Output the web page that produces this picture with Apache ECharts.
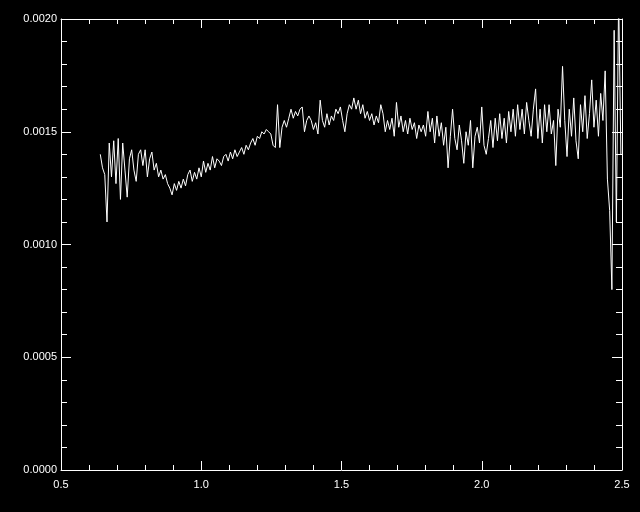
<!DOCTYPE html>
<html><head><meta charset="utf-8">
<script src="https://cdn.jsdelivr.net/npm/echarts@6/dist/echarts.min.js"></script>
<style>html,body{margin:0;padding:0;background:#000;}#c{width:640px;height:512px;}</style>
</head><body><div id="c"></div>
<script>
// Wavelength grid (x)
const wavelength = [
0.640,0.648,0.656,0.664,0.672,0.680,0.688,0.696,0.704,0.712,
0.720,0.728,0.736,0.744,0.752,0.760,0.768,0.776,0.784,0.792,
0.800,0.808,0.816,0.824,0.832,0.840,0.848,0.856,0.864,0.872,
0.880,0.888,0.896,0.904,0.912,0.920,0.928,0.936,0.944,0.952,
0.960,0.968,0.976,0.984,0.992,1.000,1.008,1.016,1.024,1.032,
1.040,1.048,1.056,1.064,1.072,1.080,1.088,1.096,1.104,1.112,
1.120,1.128,1.136,1.144,1.152,1.160,1.168,1.176,1.184,1.192,
1.200,1.208,1.216,1.224,1.232,1.240,1.248,1.256,1.264,1.272,
1.280,1.288,1.296,1.304,1.312,1.320,1.328,1.336,1.344,1.352,
1.360,1.368,1.376,1.384,1.392,1.400,1.408,1.416,1.424,1.432,
1.440,1.448,1.456,1.464,1.472,1.480,1.488,1.496,1.504,1.512,
1.520,1.528,1.536,1.544,1.552,1.560,1.568,1.576,1.584,1.592,
1.600,1.608,1.616,1.624,1.632,1.640,1.648,1.656,1.664,1.672,
1.680,1.688,1.696,1.704,1.712,1.720,1.728,1.736,1.744,1.752,
1.760,1.768,1.776,1.784,1.792,1.800,1.808,1.816,1.824,1.832,
1.840,1.848,1.856,1.864,1.872,1.880,1.888,1.896,1.904,1.912,
1.920,1.928,1.936,1.944,1.952,1.960,1.968,1.976,1.984,1.992,
2.000,2.008,2.016,2.024,2.032,2.040,2.048,2.056,2.064,2.072,
2.080,2.088,2.096,2.104,2.112,2.120,2.128,2.136,2.144,2.152,
2.160,2.168,2.176,2.184,2.192,2.200,2.208,2.216,2.224,2.232,
2.240,2.248,2.256,2.264,2.272,2.280,2.288,2.296,2.304,2.312,
2.320,2.328,2.336,2.344,2.352,2.360,2.368,2.376,2.384,2.392,
2.400,2.408,2.416,2.424,2.432,2.440,2.448,2.456,2.464,2.472,
2.480,2.488,2.496
];
// Flux values (y)
const flux = [
0.00140,0.00134,0.00131,0.00110,0.00145,0.00130,0.00146,0.00127,0.00147,0.00120,
0.00145,0.00133,0.00121,0.00138,0.00142,0.00133,0.00128,0.00140,0.00142,0.00135,
0.00142,0.00130,0.00138,0.00141,0.00133,0.00136,0.00130,0.00133,0.00129,0.00131,
0.00127,0.00125,0.00122,0.00127,0.00124,0.00128,0.00125,0.00129,0.00126,0.00131,
0.00133,0.00128,0.00132,0.00129,0.00134,0.00130,0.00137,0.00132,0.00136,0.00133,
0.00139,0.00134,0.00138,0.00137,0.00135,0.00139,0.00140,0.00137,0.00141,0.00138,
0.00142,0.00139,0.00141,0.00143,0.00140,0.00144,0.00142,0.00145,0.00147,0.00144,
0.00148,0.00147,0.00150,0.00149,0.00151,0.00150,0.00149,0.00144,0.00143,0.00162,
0.00143,0.00152,0.00155,0.00152,0.00156,0.00160,0.00156,0.00159,0.00157,0.00160,
0.00161,0.00150,0.00155,0.00157,0.00155,0.00151,0.00154,0.00149,0.00164,0.00155,
0.00152,0.00158,0.00153,0.00157,0.00155,0.00160,0.00158,0.00161,0.00155,0.00150,
0.00158,0.00162,0.00160,0.00165,0.00160,0.00164,0.00158,0.00162,0.00156,0.00159,
0.00155,0.00158,0.00153,0.00157,0.00154,0.00162,0.00158,0.00150,0.00155,0.00151,
0.00156,0.00148,0.00163,0.00152,0.00157,0.00150,0.00155,0.00149,0.00156,0.00151,
0.00154,0.00147,0.00153,0.00150,0.00153,0.00148,0.00159,0.00150,0.00156,0.00145,
0.00157,0.00148,0.00154,0.00144,0.00152,0.00134,0.00148,0.00160,0.00147,0.00142,
0.00153,0.00146,0.00136,0.00150,0.00144,0.00155,0.00134,0.00148,0.00152,0.00145,
0.00161,0.00144,0.00140,0.00147,0.00155,0.00143,0.00156,0.00146,0.00158,0.00147,
0.00156,0.00145,0.00159,0.00150,0.00160,0.00148,0.00162,0.00151,0.00160,0.00149,
0.00163,0.00155,0.00148,0.00160,0.00169,0.00147,0.00160,0.00145,0.00162,0.00150,
0.00162,0.00149,0.00155,0.00135,0.00160,0.00152,0.00179,0.00155,0.00139,0.00160,
0.00148,0.00165,0.00146,0.00138,0.00162,0.00150,0.00166,0.00147,0.00158,0.00173,
0.00152,0.00164,0.00148,0.00167,0.00155,0.00177,0.00129,0.00115,0.00080,0.00195,
0.00110,0.00210,0.00140
];
const xMin = 0.5, xMax = 2.5, xStep = 0.5;
const yMin = 0, yMax = 0.002, yStep = 0.0005;

const chart = echarts.init(document.getElementById('c'), null, {renderer: 'canvas'});
const white = '#ffffff';
const font = 'Liberation Sans, Arial, Helvetica, sans-serif';

function xAx(pos, labels) {
  return {
    type: 'value', position: pos, min: xMin, max: xMax, interval: xStep,
    axisLine: {show: true, onZero: false, lineStyle: {color: white, width: 1}},
    axisTick: {show: true, inside: true, length: 9, lineStyle: {color: white, width: 1}},
    minorTick: {show: true, splitNumber: 5, length: 5, lineStyle: {color: white, width: 1}},
    splitLine: {show: false},
    axisLabel: {show: labels, color: white, fontSize: 11, fontFamily: font, margin: 9,
      formatter: v => v.toFixed(1)}
  };
}
function yAx(pos, labels) {
  return {
    type: 'value', position: pos, min: yMin, max: yMax, interval: yStep,
    axisLine: {show: true, onZero: false, lineStyle: {color: white, width: 1}},
    axisTick: {show: true, inside: true, length: 10, lineStyle: {color: white, width: 1}},
    minorTick: {show: true, splitNumber: 5, length: 6, lineStyle: {color: white, width: 1}},
    splitLine: {show: false},
    axisLabel: {show: labels, color: white, fontSize: 11, fontFamily: font, margin: 4,
      formatter: v => v.toFixed(4)}
  };
}

chart.setOption({
  backgroundColor: '#000000',
  animation: false,
  grid: {left: 61, right: 18, top: 19, bottom: 42, containLabel: false},
  xAxis: [xAx('bottom', true), xAx('top', false)],
  yAxis: [yAx('left', true), yAx('right', false)],
  series: [{
    type: 'line',
    xAxisIndex: 0, yAxisIndex: 0,
    data: wavelength.map((x, i) => [x, flux[i]]),
    showSymbol: false, symbol: 'none',
    clip: true,
    lineStyle: {color: white, width: 1},
    itemStyle: {color: white}
  }]
});
</script>
</body></html>
